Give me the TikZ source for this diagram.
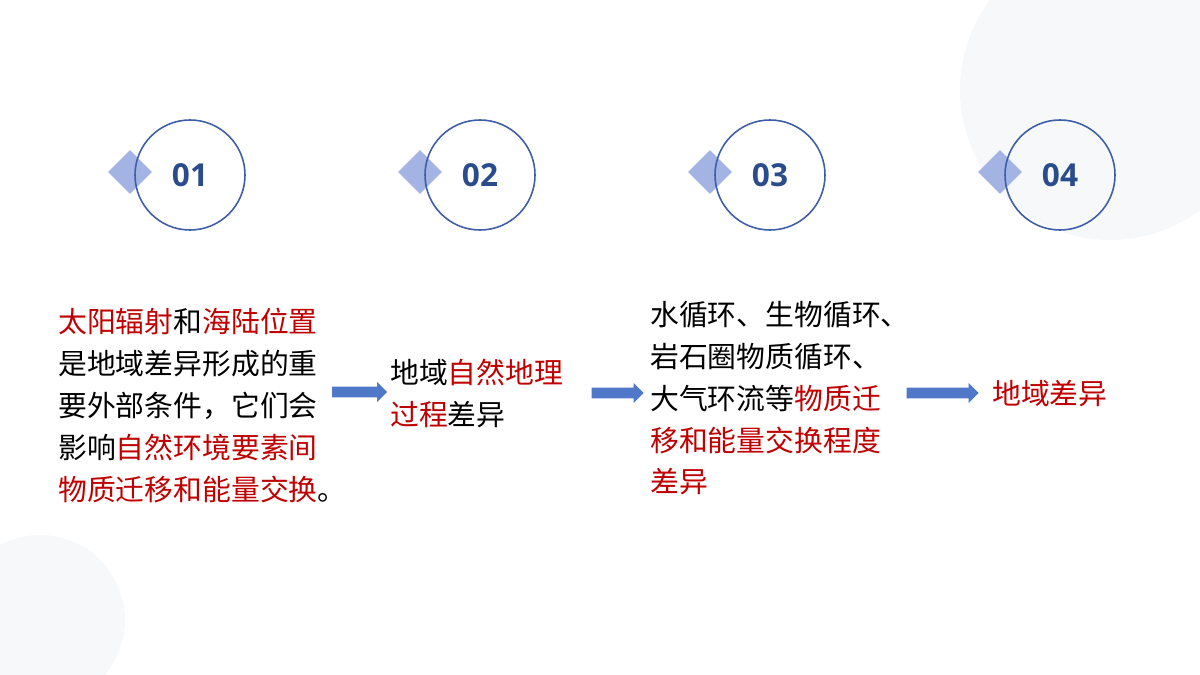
\documentclass[tikz,border=0pt]{standalone}
\usepackage{fontspec}
\newfontfamily\cjk{Noto Sans CJK SC}
\newfontfamily\numf{Open Sans}
\usetikzlibrary{shapes.arrows}
\definecolor{rd}{HTML}{C00000}
\definecolor{dia}{HTML}{A3B3E3}
\definecolor{ring}{HTML}{3F5EA8}
\definecolor{num}{HTML}{2B4C8C}
\definecolor{arr}{HTML}{4F78C8}
\definecolor{bg}{HTML}{F7F8FA}
\tikzset{
 ringc/.style={circle,draw=ring,line width=0.9pt,minimum size=110*0.02cm,font=\numf\bfseries\fontsize{18}{18}\selectfont,text=num},
 diam/.style={fill=dia,minimum size=31*0.02cm,rotate=45,inner sep=0},
 txt/.style={font=\cjk\fontsize{16.4}{23.8}\selectfont,align=left,anchor=north west,inner sep=0},
 barrow/.style={single arrow,fill=arr,minimum width=20*0.02cm,single arrow head extend=1.5pt,minimum height=#1*0.02cm,inner sep=1.5pt}
}
\begin{document}
\begin{tikzpicture}[x=0.02cm,y=-0.02cm]
\useasboundingbox (0,0) rectangle (1200,675);
\begin{scope}
\clip (0,0) rectangle (1200,675);
\fill[bg] (1110,90) circle (150);
\fill[bg] (40,620) circle (85);
\end{scope}
\foreach \i/\x in {1/130,2/420,3/710,4/1000}{
  \node[diam] (d\i) at (\x,172) {};
  \node[ringc] (c\i) at (\x+60,175) {0\i};
}
\node[txt] (t1) at (58,308) {\textcolor{rd}{太阳辐射}和\textcolor{rd}{海陆位置}\\是地域差异形成的重\\要外部条件，它们会\\影响\textcolor{rd}{自然环境要素间}\\\textcolor{rd}{物质迁移和能量交换}。};
\node[txt] (t2) at (390,359) {地域\textcolor{rd}{自然地理}\\\textcolor{rd}{过程}差异};
\node[txt] (t3) at (650,301) {水循环、生物循环、\\岩石圈物质循环、\\大气环流等\textcolor{rd}{物质迁}\\\textcolor{rd}{移和能量交换程度}\\\textcolor{rd}{差异}};
\node[txt,anchor=west] (t4) at (992,394) {\textcolor{rd}{地域差异}};
\node[barrow=55] (a1) at (357,392) {};
\node[barrow=52] (a2) at (615,393) {};
\node[barrow=72] (a3) at (940,393) {};
\end{tikzpicture}
\end{document}
